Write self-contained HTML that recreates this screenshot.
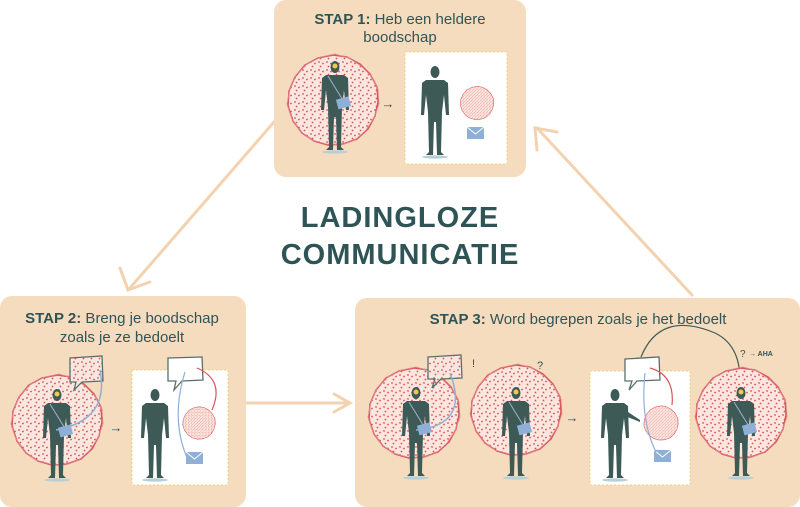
<!DOCTYPE html>
<html><head><meta charset="utf-8"><style>
html,body{margin:0;padding:0;background:#fff;}
svg{display:block;}
text{font-family:"Liberation Sans",sans-serif;fill:#2f5456;}
</style></head><body>
<svg width="800" height="507" viewBox="0 0 800 507" xmlns="http://www.w3.org/2000/svg">
<defs>
<pattern id="dots" width="8" height="8" patternUnits="userSpaceOnUse">
<rect width="8" height="8" fill="#fbe6e0"/>
<circle cx="2" cy="2" r="0.9" fill="#d9534f"/>
<circle cx="6" cy="3.5" r="0.9" fill="#d9534f"/>
<circle cx="3.5" cy="6.5" r="0.9" fill="#d9534f"/>
</pattern>
<g id="person">
<ellipse cx="0" cy="90" rx="13" ry="1.6" fill="#b8cfd6"/>
<ellipse cx="0" cy="5" rx="4.5" ry="6" fill="#3d5a57"/>
<path d="M-9,13 L9,13 L13,16 L14,48 L11,48 L9,28 L7,45 L6,85 L9,88 L2,88 L1,55 L-1,55 L-2,88 L-9,88 L-6,85 L-7,45 L-9,28 L-11,48 L-14,48 L-13,16 Z" fill="#3d5a57"/>
</g>
<g id="personbag">
<use href="#person"/>
<circle cx="0" cy="4" r="2.5" fill="#f2c94c"/>
<line x1="-7" y1="14" x2="9" y2="40" stroke="#9bb3cf" stroke-width="1"/>
<rect x="2" y="36" width="13" height="10" fill="#8fb0d6" transform="rotate(-15 8 41)"/>
</g>
<g id="blob">
<path d="M0,-45 L14,-43 L27,-36 L37,-26 L44,-13 L45,2 L42,16 L35,29 L24,39 L10,44 L-5,45 L-19,41 L-31,33 L-40,21 L-45,6 L-44,-9 L-38,-23 L-28,-35 L-15,-42 Z" fill="url(#dots)" stroke="#d8545a" stroke-width="1.5" stroke-linejoin="round"/>
<path d="M2,-46 L16,-42 L28,-34 L38,-24 L45,-11 L46,4 L41,18 L33,30 L22,40 L8,45 L-7,44 L-21,40 L-33,31 L-41,19 L-46,4 L-43,-11 L-37,-25 L-26,-36 L-12,-43 Z" fill="none" stroke="#e08a8c" stroke-width="0.8"/>
</g>
<g id="env"><rect x="0" y="0" width="17" height="12" fill="#8fb0d6"/><path d="M0,0 L8.5,7 L17,0" fill="none" stroke="#fff" stroke-width="1"/></g>
</defs>

<!-- connectors -->
<g stroke="#f3d2b0" stroke-width="3" fill="none" stroke-linecap="round">
<path d="M274,122 L130,288"/><path d="M120,268 L128,290 L150,282"/>
<path d="M246,403 L350,403"/><path d="M334,394 L350,403 L334,412"/>
<path d="M692,295 L537,128"/><path d="M537,150 L535,128 L557,132"/>
</g>

<!-- panels -->
<rect x="274" y="0" width="252" height="177" rx="12" fill="#f6dcbf"/>
<rect x="0" y="296" width="246" height="211" rx="12" fill="#f6dcbf"/>
<rect x="355" y="298" width="445" height="209" rx="12" fill="#f6dcbf"/>

<!-- title -->
<text x="400" y="227" font-size="29" font-weight="bold" text-anchor="middle" letter-spacing="1">LADINGLOZE</text>
<text x="400" y="264" font-size="29" font-weight="bold" text-anchor="middle" letter-spacing="1">COMMUNICATIE</text>

<!-- panel 1 -->
<text x="400" y="24" font-size="15" text-anchor="middle"><tspan font-weight="bold">STAP 1:</tspan> Heb een heldere</text>
<text x="400" y="42" font-size="15" text-anchor="middle">boodschap</text>
<use href="#blob" x="333" y="100"/>
<use href="#personbag" x="335" y="62"/>
<text x="388" y="108" font-size="13" text-anchor="middle" fill="#222">→</text>
<rect x="405" y="52" width="102" height="112" fill="#fff" stroke="#f2d27a" stroke-width="1" stroke-dasharray="2,2"/>
<use href="#person" x="435" y="67"/>
<use href="#blob" transform="translate(477,103) scale(0.37)"/>
<use href="#env" x="467" y="127"/>

<!-- panel 2 -->
<text x="122" y="323" font-size="15" text-anchor="middle"><tspan font-weight="bold">STAP 2:</tspan> Breng je boodschap</text>
<text x="122" y="342" font-size="15" text-anchor="middle">zoals je ze bedoelt</text>
<use href="#blob" x="57" y="420"/>
<use href="#personbag" x="57" y="390"/>
<path d="M70,358 L102,356 L103,381 L82,382 L74,390 L76,382 L70,382 Z" fill="url(#dots)" stroke="#5a6f6c" stroke-width="1.3"/>
<path d="M56,430 Q110,420 100,370" fill="none" stroke="#8fb0d6" stroke-width="1.5"/>
<text x="116" y="432" font-size="13" text-anchor="middle" fill="#222">→</text>
<rect x="132" y="370" width="96" height="115" fill="#fff" stroke="#f2d27a" stroke-width="1" stroke-dasharray="2,2"/>
<use href="#person" x="155" y="390"/>
<path d="M168,358 L202,357 L203,380 L182,381 L174,390 L176,381 L168,381 Z" fill="#fff" stroke="#5a6f6c" stroke-width="1.3"/>
<use href="#blob" transform="translate(199,423) scale(0.36)"/>
<use href="#env" x="186" y="452"/>
<path d="M188,460 Q170,420 185,372" fill="none" stroke="#8fb0d6" stroke-width="1.2"/>
<path d="M212,410 Q225,380 197,368" fill="none" stroke="#d8545a" stroke-width="1.2"/>

<!-- panel 3 -->
<text x="578" y="324" font-size="15" text-anchor="middle"><tspan font-weight="bold">STAP 3:</tspan> Word begrepen zoals je het bedoelt</text>
<use href="#blob" x="414" y="413"/>
<use href="#personbag" x="416" y="388"/>
<path d="M428,357 L461,355 L462,378 L441,379 L432,388 L435,379 L428,379 Z" fill="url(#dots)" stroke="#5a6f6c" stroke-width="1.3"/>
<path d="M416,430 Q470,425 450,373" fill="none" stroke="#8fb0d6" stroke-width="1.5"/>
<text x="472" y="367" font-size="11" fill="#222">!</text>
<use href="#blob" x="516" y="410"/>
<use href="#personbag" x="516" y="388"/>
<text x="537" y="369" font-size="11" fill="#222">?</text>
<text x="572" y="422" font-size="13" text-anchor="middle" fill="#222">→</text>
<rect x="590" y="371" width="100" height="114" fill="#fff" stroke="#f2d27a" stroke-width="1" stroke-dasharray="2,2"/>
<use href="#person" x="615" y="390"/>
<path d="M625,410 L640,420 L640,422 L625,416 Z" fill="#3d5a57"/>
<path d="M625,359 L659,357 L660,380 L637,381 L629,390 L632,381 L625,381 Z" fill="#fff" stroke="#5a6f6c" stroke-width="1.3"/>
<use href="#blob" transform="translate(661,423) scale(0.38)"/>
<use href="#env" x="654" y="450"/>
<path d="M656,452 Q640,420 645,373" fill="none" stroke="#8fb0d6" stroke-width="1.2"/>
<path d="M672,405 Q675,375 650,368" fill="none" stroke="#d8545a" stroke-width="1.2"/>
<path d="M641,357 Q660,310 715,333 Q740,345 740,380" fill="none" stroke="#3d5a57" stroke-width="1.2"/>
<path d="M736,375 L740,382 L744,375" fill="none" stroke="#3d5a57" stroke-width="1.2"/>
<use href="#blob" x="741" y="413"/>
<use href="#personbag" x="741" y="388"/>
<text x="740" y="357" font-size="10" fill="#222">?</text>
<text x="749" y="356" font-size="7" fill="#222" font-weight="bold">→ AHA</text>
</svg>
</body></html>
